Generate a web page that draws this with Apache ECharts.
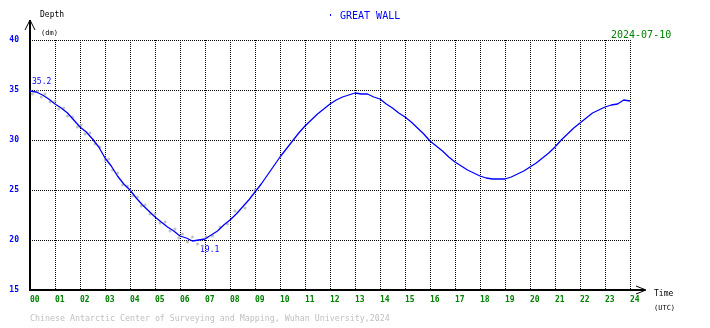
<!DOCTYPE html>
<html>
<head>
<meta charset="utf-8">
<script src="https://cdn.jsdelivr.net/npm/echarts@6/dist/echarts.min.js"></script>
<style>
html, body { margin: 0; padding: 0; background: #fff; }
#tide_chart { width: 710px; height: 328px; }
</style>
</head>
<body>
<div id="tide_chart"></div>
<script>
// tide gauge readings, hours (UTC) and depth (dm)
var times = [0, 0.25, 0.5, 0.75, 1, 1.25, 1.5, 1.75, 2, 2.25, 2.5, 2.75, 3, 3.25, 3.5, 3.75,
	4, 4.25, 4.5, 4.75, 5, 5.25, 5.5, 5.75, 6, 6.25, 6.5, 6.75, 7, 7.25, 7.5, 7.75,
	8, 8.25, 8.5, 8.75, 9, 9.25, 9.5, 9.75, 10, 10.25, 10.5, 10.75, 11, 11.25, 11.5, 11.75,
	12, 12.25, 12.5, 12.75, 13, 13.25, 13.5, 13.75, 14, 14.25, 14.5, 14.75, 15, 15.25, 15.5, 15.75,
	16, 16.25, 16.5, 16.75, 17, 17.25, 17.5, 17.75, 18, 18.25, 18.5, 18.75, 19, 19.25, 19.5, 19.75,
	20, 20.25, 20.5, 20.75, 21, 21.25, 21.5, 21.75, 22, 22.25, 22.5, 22.75, 23, 23.25, 23.5, 23.75, 24];
var depth = [34.9, 34.8, 34.5, 34.1, 33.6, 33.2, 32.7, 32.0, 31.3, 30.8, 30.1, 29.3, 28.2, 27.4, 26.4, 25.6,
	25.0, 24.2, 23.5, 22.9, 22.3, 21.8, 21.3, 20.9, 20.4, 20.2, 19.9, 20.0, 20.1, 20.5, 20.9, 21.5,
	22.0, 22.6, 23.3, 24.0, 24.8, 25.6, 26.5, 27.4, 28.3, 29.1, 29.9, 30.7, 31.4, 32.0, 32.6, 33.1,
	33.6, 34.0, 34.3, 34.5, 34.7, 34.6, 34.6, 34.3, 34.1, 33.6, 33.2, 32.7, 32.3, 31.8, 31.2, 30.6,
	29.9, 29.4, 28.9, 28.3, 27.8, 27.4, 27.0, 26.7, 26.4, 26.2, 26.1, 26.1, 26.1, 26.3, 26.6, 26.9,
	27.3, 27.7, 28.2, 28.7, 29.3, 30.0, 30.6, 31.2, 31.7, 32.2, 32.7, 33.0, 33.3, 33.5, 33.6, 34.0, 33.9];

// raw (unfiltered) samples shown in grey
var rawTimes = [0.1, 0.3, 0.45, 0.6, 0.8, 1.0, 1.15, 1.35, 1.5, 1.7, 1.9, 2.05, 2.2, 2.4, 2.6, 2.8,
	3.0, 3.15, 3.3, 3.5, 3.7, 3.9, 4.1, 4.3, 4.45, 4.6, 4.8, 5.0, 5.2, 5.4, 5.6, 5.8,
	5.95, 6.1, 6.3, 6.5, 6.7, 6.9, 7.05, 7.3, 7.6, 7.9, 8.2, 8.6, 9.0];
var rawDepth = [34.6, 34.9, 34.3, 34.6, 33.8, 33.9, 33.1, 33.2, 32.4, 32.3, 31.3, 31.5, 30.6, 30.7, 29.6, 29.3,
	28.0, 28.1, 27.0, 26.7, 25.5, 25.4, 24.4, 24.3, 23.4, 23.5, 22.6, 22.6, 21.7, 21.8, 20.9, 21.1,
	20.2, 20.6, 19.8, 20.3, 19.6, 19.4, 20.3, 20.4, 21.3, 21.6, 22.9, 23.2, 25.0];

var maxLabel = '35.2';
var minLabel = '19.1';

var mono = '"DejaVu Sans Mono", "Liberation Mono", monospace';

var lineData = [];
for (var i = 0; i < times.length; i++) {
	lineData.push([times[i], depth[i]]);
}
var rawData = [];
for (var j = 0; j < rawTimes.length; j++) {
	rawData.push([rawTimes[j], rawDepth[j]]);
}

var chart = echarts.init(document.getElementById('tide_chart'));

var option = {
	animation: false,
	backgroundColor: '#fff',
	grid: { left: 30, top: 40, width: 600, height: 250 },
	xAxis: {
		type: 'value',
		min: 0,
		max: 24,
		interval: 1,
		axisLine: { show: true, lineStyle: { color: '#000', width: 2 } },
		axisTick: { show: false },
		axisLabel: {
			color: '#008000',
			fontFamily: mono,
			fontSize: 8,
			fontWeight: 'bold',
			align: 'left',
			margin: 6,
			formatter: function (v) { return (v < 10 ? '0' : '') + v; }
		},
		splitLine: { show: true, lineStyle: { color: '#000', type: 'dotted', width: 1 } }
	},
	yAxis: {
		type: 'value',
		min: 15,
		max: 40,
		interval: 5,
		axisLine: { show: true, lineStyle: { color: '#000', width: 2 } },
		axisTick: { show: false },
		axisLabel: {
			color: '#0000ff',
			fontFamily: mono,
			fontSize: 8,
			fontWeight: 'bold',
			margin: 11,
			padding: [0, 0, 4, 0]
		},
		splitLine: { show: true, lineStyle: { color: '#000', type: 'dotted', width: 1 } }
	},
	series: [{
		name: 'raw',
		type: 'scatter',
		data: rawData,
		symbolSize: 3,
		itemStyle: { color: '#b4b4b4' },
		z: 1
	}, {
		name: 'depth',
		type: 'line',
		data: lineData,
		showSymbol: false,
		smooth: false,
		lineStyle: { color: '#0000ff', width: 1.3 },
		z: 3
	}],
	graphic: [
		{ type: 'line', shape: { x1: 30, y1: 40, x2: 30, y2: 20 }, style: { stroke: '#000', lineWidth: 2 } },
		{ type: 'polyline', shape: { points: [[25, 30], [30, 20], [35, 30]] }, style: { stroke: '#000', lineWidth: 1, fill: null } },
		{ type: 'line', shape: { x1: 630, y1: 290, x2: 645, y2: 290 }, style: { stroke: '#000', lineWidth: 2 } },
		{ type: 'polyline', shape: { points: [[636, 286], [646, 290], [636, 294]] }, style: { stroke: '#000', lineWidth: 1, fill: null } },
		{ type: 'text', x: 40, y: 11, style: { text: 'Depth', fill: '#000', font: '8px ' + mono, verticalAlign: 'top' } },
		{ type: 'text', x: 41, y: 30, style: { text: '(dm)', fill: '#000', font: '7px ' + mono, verticalAlign: 'top' } },
		{ type: 'rect', shape: { x: 330, y: 14, width: 1, height: 2 }, style: { fill: '#0000ff' } },
		{ type: 'text', x: 340, y: 11, style: { text: 'GREAT WALL', fill: '#0000ff', font: '10px ' + mono, verticalAlign: 'top' } },
		{ type: 'text', x: 611, y: 30, style: { text: '2024-07-10', fill: '#008000', font: '10px ' + mono, verticalAlign: 'top' } },
		{ type: 'text', x: 654, y: 290, style: { text: 'Time', fill: '#000', font: '8px ' + mono, verticalAlign: 'top' } },
		{ type: 'text', x: 654, y: 305, style: { text: '(UTC)', fill: '#000', font: '7px ' + mono, verticalAlign: 'top' } },
		{ type: 'text', x: 32, y: 78, style: { text: maxLabel, fill: '#0000ff', font: '8px ' + mono, verticalAlign: 'top' } },
		{ type: 'text', x: 200, y: 246, style: { text: minLabel, fill: '#0000ff', font: '8px ' + mono, verticalAlign: 'top' } },
		{ type: 'text', x: 30, y: 315, style: { text: 'Chinese Antarctic Center of Surveying and Mapping, Wuhan University,2024', fill: '#c0c0c0', font: '8.3px ' + mono, verticalAlign: 'top' } }
	]
};
chart.setOption(option);
</script>
</body>
</html>
